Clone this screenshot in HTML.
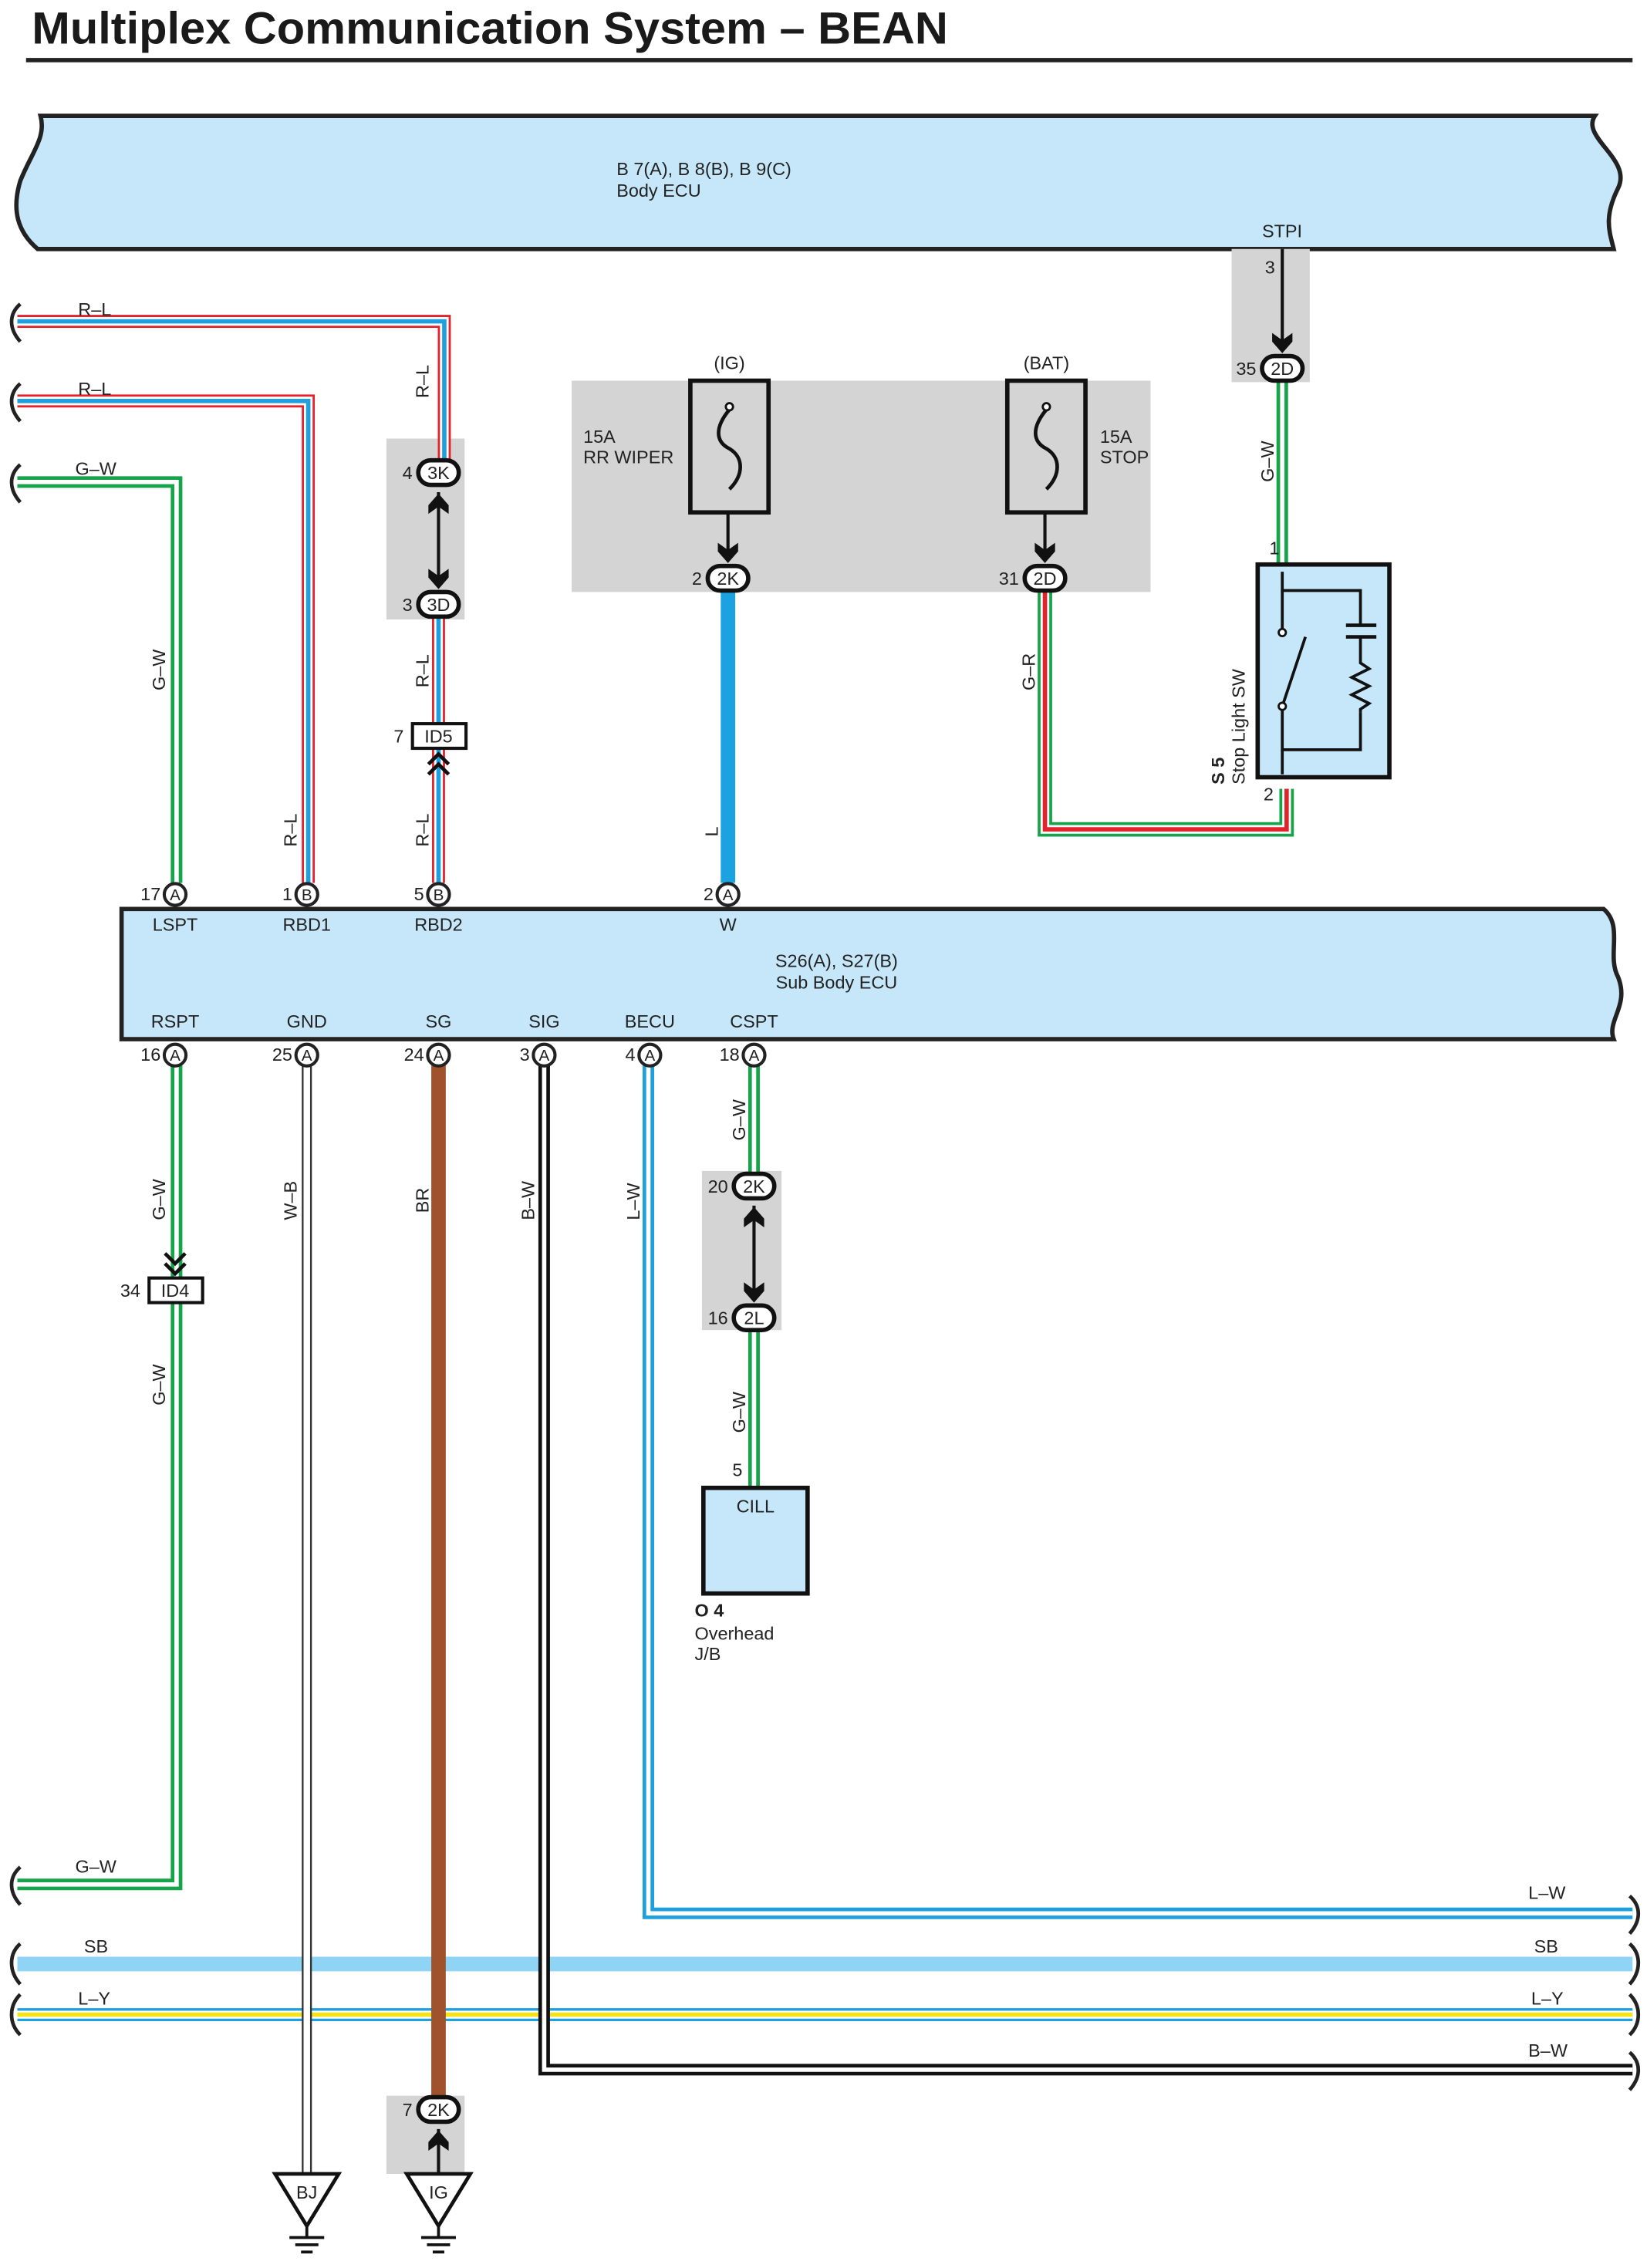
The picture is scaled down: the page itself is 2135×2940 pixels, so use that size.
<!DOCTYPE html>
<html><head><meta charset="utf-8"><style>
html,body{margin:0;padding:0;background:#fff}
svg{display:block}
text{font-family:"Liberation Sans",sans-serif;font-size:12.5px;fill:#222}
</style></head><body>
<svg width="2135" height="2940" viewBox="0 0 1138 1567" xmlns="http://www.w3.org/2000/svg">
<defs>
<path id="arrD" d="M-7,-9 L0,-4 L7,-9 L7,-3 L0,5 L-7,-3 Z" fill="#111"/>
<path id="arrU" d="M-7,9 L0,4 L7,9 L7,3 L0,-5 L-7,3 Z" fill="#111"/>
</defs>
<text x="22" y="30" textLength="633" lengthAdjust="spacingAndGlyphs" style="font-size:31px;font-weight:bold;fill:#1a1a1a">Multiplex Communication System – BEAN</text>
<rect x="18" y="40" width="1110" height="3" fill="#222"/>

<path d="M28,80 L1102,80 C1092,95 1128,110 1118,130 C1108,150 1112,160 1115,172 L26,172 C12,160 8,145 14,125 C22,105 32,95 28,80 Z" fill="#c6e7f9" stroke="#222" stroke-width="3"/>
<text x="426" y="121">B 7(A), B 8(B), B 9(C)</text>
<text x="426" y="136">Body ECU</text>
<text x="872" y="164">STPI</text>

<rect x="851" y="172" width="54" height="92" fill="#d4d4d4"/>
<rect x="395" y="263" width="400" height="146" fill="#d4d4d4"/>
<rect x="267" y="303" width="54" height="125" fill="#d4d4d4"/>
<rect x="485" y="809" width="55" height="110" fill="#d4d4d4"/>
<rect x="267" y="1448" width="54" height="54" fill="#d4d4d4"/>

<line x1="12" y1="1357" x2="1128" y2="1357" stroke="#8fd4f5" stroke-width="10"/>
<line x1="12" y1="1392" x2="1128" y2="1392" stroke="#1ea0df" stroke-width="9"/>
<line x1="12" y1="1392" x2="1128" y2="1392" stroke="#fff" stroke-width="5.5"/>
<line x1="12" y1="1392" x2="1128" y2="1392" stroke="#f5e21a" stroke-width="3"/>

<g fill="none">
<polyline points="12,222 307,222 307,318" stroke="#e3232b" stroke-width="9"/>
<polyline points="12,222 307,222 307,318" stroke="#fff" stroke-width="6"/>
<polyline points="12,222 307,222 307,318" stroke="#1ea0df" stroke-width="3"/>
<polyline points="12,277 213,277 213,610" stroke="#e3232b" stroke-width="9"/>
<polyline points="12,277 213,277 213,610" stroke="#fff" stroke-width="6"/>
<polyline points="12,277 213,277 213,610" stroke="#1ea0df" stroke-width="3"/>
<polyline points="303,425 303,610" stroke="#e3232b" stroke-width="9"/>
<polyline points="303,425 303,610" stroke="#fff" stroke-width="6"/>
<polyline points="303,425 303,610" stroke="#1ea0df" stroke-width="3"/>
<polyline points="12,333 122,333 122,610" stroke="#16a34a" stroke-width="8"/>
<polyline points="12,333 122,333 122,610" stroke="#fff" stroke-width="3"/>
<polyline points="886,262 886,390" stroke="#16a34a" stroke-width="8"/>
<polyline points="886,262 886,390" stroke="#fff" stroke-width="3"/>
<line x1="503" y1="406" x2="503" y2="610" stroke="#1aa3e0" stroke-width="10"/>
<polyline points="722,406 722,573 889,573 889,545" stroke="#16a34a" stroke-width="10"/>
<polyline points="722,406 722,573 889,573 889,545" stroke="#fff" stroke-width="6"/>
<polyline points="722,406 722,573 889,573 889,545" stroke="#e3232b" stroke-width="3"/>
<polyline points="122,736 122,1302 12,1302" stroke="#16a34a" stroke-width="8"/>
<polyline points="122,736 122,1302 12,1302" stroke="#fff" stroke-width="3"/>
<line x1="212" y1="736" x2="212" y2="1502" stroke="#333" stroke-width="7"/>
<line x1="212" y1="736" x2="212" y2="1502" stroke="#fff" stroke-width="4.5"/>
<line x1="303" y1="736" x2="303" y2="1448" stroke="#a0522d" stroke-width="10"/>
<polyline points="376,736 376,1430 1128,1430" stroke="#111" stroke-width="8"/>
<polyline points="376,736 376,1430 1128,1430" stroke="#fff" stroke-width="3"/>
<polyline points="448,736 448,1322 1128,1322" stroke="#1ea0df" stroke-width="8"/>
<polyline points="448,736 448,1322 1128,1322" stroke="#fff" stroke-width="3"/>
<line x1="521" y1="736" x2="521" y2="811" stroke="#16a34a" stroke-width="8"/>
<line x1="521" y1="736" x2="521" y2="811" stroke="#fff" stroke-width="3"/>
<line x1="521" y1="918" x2="521" y2="1028" stroke="#16a34a" stroke-width="8"/>
<line x1="521" y1="918" x2="521" y2="1028" stroke="#fff" stroke-width="3"/>
</g>

<g fill="none" stroke="#222" stroke-width="2.5">
<path d="M14,210 C6,217 6,227 14,236"/>
<path d="M14,265 C6,272 6,282 14,291"/>
<path d="M14,321 C6,328 6,338 14,347"/>
<path d="M14,1290 C6,1297 6,1307 14,1316"/>
<path d="M14,1343 C6,1350 6,1362 14,1371"/>
<path d="M14,1378 C6,1386 6,1398 14,1406"/>
<path d="M1126,1310 C1134,1317 1134,1327 1126,1336"/>
<path d="M1126,1343 C1134,1350 1134,1362 1126,1371"/>
<path d="M1126,1378 C1134,1386 1134,1398 1126,1406"/>
<path d="M1126,1418 C1134,1425 1134,1435 1126,1444"/>
</g>

<path d="M84,628 L1108,628 C1122,640 1110,660 1118,675 C1126,695 1110,705 1115,718 L84,718 Z" fill="#c6e7f9" stroke="#222" stroke-width="3"/>
<g text-anchor="middle">
<text x="121" y="643">LSPT</text><text x="212" y="643">RBD1</text><text x="303" y="643">RBD2</text><text x="503" y="643">W</text>
<text x="578" y="668">S26(A), S27(B)</text><text x="578" y="683">Sub Body ECU</text>
<text x="121" y="710">RSPT</text><text x="212" y="710">GND</text><text x="303" y="710">SG</text><text x="376" y="710">SIG</text><text x="449" y="710">BECU</text><text x="521" y="710">CSPT</text>
</g>

<g>
<g stroke="#222" stroke-width="2.2" fill="#fff">
<circle cx="121" cy="618" r="7.5"/><circle cx="212" cy="618" r="7.5"/><circle cx="303" cy="618" r="7.5"/><circle cx="503" cy="618" r="7.5"/>
<circle cx="121" cy="729" r="7.5"/><circle cx="212" cy="729" r="7.5"/><circle cx="303" cy="729" r="7.5"/><circle cx="376" cy="729" r="7.5"/><circle cx="449" cy="729" r="7.5"/><circle cx="521" cy="729" r="7.5"/>
</g>
<g text-anchor="middle">
<text x="121" y="622" style="font-size:11px">A</text><text x="212" y="622" style="font-size:11px">B</text><text x="303" y="622" style="font-size:11px">B</text><text x="503" y="622" style="font-size:11px">A</text>
<text x="121" y="733" style="font-size:11px">A</text><text x="212" y="733" style="font-size:11px">A</text><text x="303" y="733" style="font-size:11px">A</text><text x="376" y="733" style="font-size:11px">A</text><text x="449" y="733" style="font-size:11px">A</text><text x="521" y="733" style="font-size:11px">A</text>
</g>
<g text-anchor="end">
<text x="111" y="622">17</text><text x="202" y="622">1</text><text x="293" y="622">5</text><text x="493" y="622">2</text>
<text x="111" y="733">16</text><text x="202" y="733">25</text><text x="293" y="733">24</text><text x="366" y="733">3</text><text x="439" y="733">4</text><text x="511" y="733">18</text>
</g>
</g>

<g stroke="#111" stroke-width="3" fill="#fff">
<rect x="289" y="318" width="28" height="17" rx="8.5"/>
<rect x="289" y="409" width="28" height="17" rx="8.5"/>
<rect x="489" y="391" width="28" height="17" rx="8.5"/>
<rect x="708" y="391" width="28" height="17" rx="8.5"/>
<rect x="872" y="246" width="28" height="17" rx="8.5"/>
<rect x="507" y="811" width="28" height="17" rx="8.5"/>
<rect x="507" y="902" width="28" height="17" rx="8.5"/>
<rect x="289" y="1449" width="28" height="17" rx="8.5"/>
</g>
<g text-anchor="middle">
<text x="303" y="331">3K</text><text x="303" y="422">3D</text><text x="503" y="404">2K</text><text x="722" y="404">2D</text><text x="886" y="259">2D</text>
<text x="521" y="824">2K</text><text x="521" y="915">2L</text><text x="303" y="1462">2K</text>
</g>
<g text-anchor="end">
<text x="285" y="331">4</text><text x="285" y="422">3</text><text x="485" y="404">2</text><text x="704" y="404">31</text><text x="868" y="259">35</text>
<text x="503" y="824">20</text><text x="503" y="915">16</text><text x="285" y="1462">7</text>
<text x="881" y="189">3</text>
</g>

<g stroke="#111" stroke-width="2.2">
<line x1="303" y1="340" x2="303" y2="400"/>
<line x1="886" y1="172" x2="886" y2="240"/>
<line x1="503" y1="354" x2="503" y2="384"/>
<line x1="722" y1="354" x2="722" y2="384"/>
<line x1="521" y1="833" x2="521" y2="893"/>
<line x1="303" y1="1471" x2="303" y2="1502"/>
</g>
<use href="#arrU" x="303" y="346"/>
<use href="#arrD" x="303" y="402"/>
<use href="#arrD" x="886" y="239"/>
<use href="#arrD" x="503" y="384"/>
<use href="#arrD" x="722" y="384"/>
<use href="#arrU" x="521" y="839"/>
<use href="#arrD" x="521" y="895"/>
<use href="#arrU" x="303" y="1477"/>
<rect x="285" y="500" width="37" height="17" fill="#fff" stroke="#111" stroke-width="2.2"/>
<text x="303" y="513" text-anchor="middle">ID5</text><text x="279" y="513" text-anchor="end">7</text>
<path d="M296,528 L303,521 L310,528 M296,535 L303,528 L310,535" fill="none" stroke="#111" stroke-width="2.5"/>
<rect x="103" y="883" width="37" height="17" fill="#fff" stroke="#111" stroke-width="2.2"/>
<text x="121" y="896" text-anchor="middle">ID4</text><text x="97" y="896" text-anchor="end">34</text>
<path d="M114,866 L121,873 L128,866 M114,873 L121,880 L128,873" fill="none" stroke="#111" stroke-width="2.5"/>

<rect x="477" y="263" width="54" height="91" fill="none" stroke="#111" stroke-width="3"/>
<rect x="696" y="263" width="54" height="91" fill="none" stroke="#111" stroke-width="3"/>
<path d="M504,283 C494,295 494,305 504,310 C514,316 514,328 504,338" fill="none" stroke="#111" stroke-width="2.5"/>
<path d="M723,283 C713,295 713,305 723,310 C733,316 733,328 723,338" fill="none" stroke="#111" stroke-width="2.5"/>
<circle cx="504" cy="281" r="2.5" fill="#fff" stroke="#111" stroke-width="1.5"/>
<circle cx="723" cy="281" r="2.5" fill="#fff" stroke="#111" stroke-width="1.5"/>
<text x="504" y="255" text-anchor="middle">(IG)</text><text x="723" y="255" text-anchor="middle">(BAT)</text>
<text x="403" y="306">15A</text><text x="403" y="320">RR WIPER</text>
<text x="760" y="306">15A</text><text x="760" y="320">STOP</text>

<rect x="869" y="390" width="91" height="147" fill="#c6e7f9" stroke="#111" stroke-width="3"/>
<text x="877" y="383">1</text><text x="873" y="553">2</text>
<g fill="none" stroke="#111" stroke-width="2">
<polyline points="886,395 886,408 940,408 940,432"/>
<polyline points="886,408 886,437"/>
<line x1="886" y1="488" x2="902" y2="440"/>
<polyline points="886,488 886,518 940,518 940,492"/>
<line x1="886" y1="518" x2="886" y2="535"/>
<line x1="930" y1="432" x2="951" y2="432" stroke-width="2.5"/>
<line x1="930" y1="440" x2="951" y2="440" stroke-width="2.5"/>
<polyline points="940,440 940,458 946,462 934,468 946,474 934,480 946,486 940,490 940,492"/>
</g>
<circle cx="886" cy="437" r="2.5" fill="#fff" stroke="#111" stroke-width="1.5"/>
<circle cx="886" cy="488" r="2.5" fill="#fff" stroke="#111" stroke-width="1.5"/>
<text transform="translate(846,542) rotate(-90)" style="font-weight:bold">S 5</text>
<text transform="translate(860,542) rotate(-90)">Stop Light SW</text>

<rect x="486" y="1028" width="72" height="73" fill="#c6e7f9" stroke="#111" stroke-width="3"/>
<text x="522" y="1045" text-anchor="middle">CILL</text><text x="513" y="1020" text-anchor="end">5</text>
<text x="480" y="1117" style="font-weight:bold">O 4</text><text x="480" y="1133">Overhead</text><text x="480" y="1147">J/B</text>

<g fill="#fff" stroke="#111" stroke-width="2.5">
<path d="M190,1502 L234,1502 L212,1538 Z"/>
<path d="M281,1502 L325,1502 L303,1538 Z"/>
</g>
<text x="212" y="1519" text-anchor="middle">BJ</text><text x="303" y="1519" text-anchor="middle">IG</text>
<g stroke="#111" stroke-width="2">
<line x1="212" y1="1538" x2="212" y2="1546"/><line x1="200" y1="1546" x2="224" y2="1546"/><line x1="204" y1="1551" x2="220" y2="1551"/><line x1="208" y1="1556" x2="216" y2="1556"/>
<line x1="303" y1="1538" x2="303" y2="1546"/><line x1="291" y1="1546" x2="315" y2="1546"/><line x1="295" y1="1551" x2="311" y2="1551"/><line x1="299" y1="1556" x2="307" y2="1556"/>
</g>

<text x="54" y="218">R–L</text><text x="54" y="273">R–L</text><text x="52" y="328">G–W</text><text x="52" y="1294">G–W</text>
<text x="58" y="1349">SB</text><text x="54" y="1385">L–Y</text>
<text x="1056" y="1312">L–W</text><text x="1060" y="1349">SB</text><text x="1058" y="1385">L–Y</text><text x="1056" y="1421">B–W</text>
<g>
<text transform="translate(296,275) rotate(-90)">R–L</text>
<text transform="translate(114,477) rotate(-90)">G–W</text>
<text transform="translate(205,585) rotate(-90)">R–L</text>
<text transform="translate(296,475) rotate(-90)">R–L</text>
<text transform="translate(296,585) rotate(-90)">R–L</text>
<text transform="translate(496,578) rotate(-90)">L</text>
<text transform="translate(715,477) rotate(-90)">G–R</text>
<text transform="translate(880,333) rotate(-90)">G–W</text>
<text transform="translate(114,843) rotate(-90)">G–W</text>
<text transform="translate(205,843) rotate(-90)">W–B</text>
<text transform="translate(296,838) rotate(-90)">BR</text>
<text transform="translate(369,843) rotate(-90)">B–W</text>
<text transform="translate(442,843) rotate(-90)">L–W</text>
<text transform="translate(515,788) rotate(-90)">G–W</text>
<text transform="translate(515,990) rotate(-90)">G–W</text>
<text transform="translate(114,971) rotate(-90)">G–W</text>
</g>
</svg>
</body></html>
